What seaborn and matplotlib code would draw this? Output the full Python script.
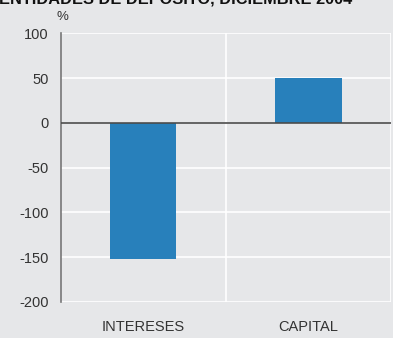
import pandas as pd
import matplotlib.pyplot as plt
import seaborn as sns

# data
categorias = ['INTERESES', 'CAPITAL']
valores = [-152, 50]
y_ticks = [-200, -150, -100, -50, 0, 50, 100]

bg = '#e6e7e9'
bar_color = '#2880bb'

sns.set_style('white')
plt.rcParams['font.family'] = ['Liberation Sans', 'DejaVu Sans']

df = pd.DataFrame({'categoria': categorias, 'valor': valores})

fig = plt.figure(figsize=(3.93, 3.38), dpi=100, facecolor=bg)
ax = fig.add_axes([0.155, 0.107, 0.84, 0.794])
ax.set_facecolor(bg)

sns.barplot(data=df, x='categoria', y='valor', color=bar_color, width=0.4,
            saturation=1, linewidth=0, ax=ax, zorder=3)

ax.set_ylim(-200, 100)
ax.set_xlim(-0.5, 1.5)
ax.set_yticks(y_ticks)
ax.set_yticklabels([str(t) for t in y_ticks])
ax.set_xlabel('')
ax.set_ylabel('')

# white grid lines, separators between categories
ax.set_xticks([0.5, 1.5], minor=True)
ax.grid(axis='y', color='white', linewidth=1.2, zorder=1)
ax.grid(axis='x', which='minor', color='white', linewidth=1.2, zorder=1)
ax.grid(axis='x', which='major', visible=False)
ax.axhline(0, color='#4a4a4a', linewidth=1.2, zorder=4)

for s in ['top', 'right', 'bottom']:
    ax.spines[s].set_visible(False)
ax.spines['left'].set_color('#777777')
ax.spines['left'].set_linewidth(1.2)

ax.tick_params(axis='both', which='both', length=0, labelsize=10.5, colors='#333333')
ax.tick_params(axis='y', pad=9)
ax.tick_params(axis='x', pad=13)

fig.text(-0.003, 1.006, 'ENTIDADES DE DEPÓSITO, DICIEMBRE 2004', fontsize=11.8,
         fontweight='bold', color='#111111', ha='left', va='center')
fig.text(0.16, 0.95, '%', fontsize=9.5, color='#333333', ha='center', va='center')

fig.savefig('out.png', dpi=100, facecolor=bg)
